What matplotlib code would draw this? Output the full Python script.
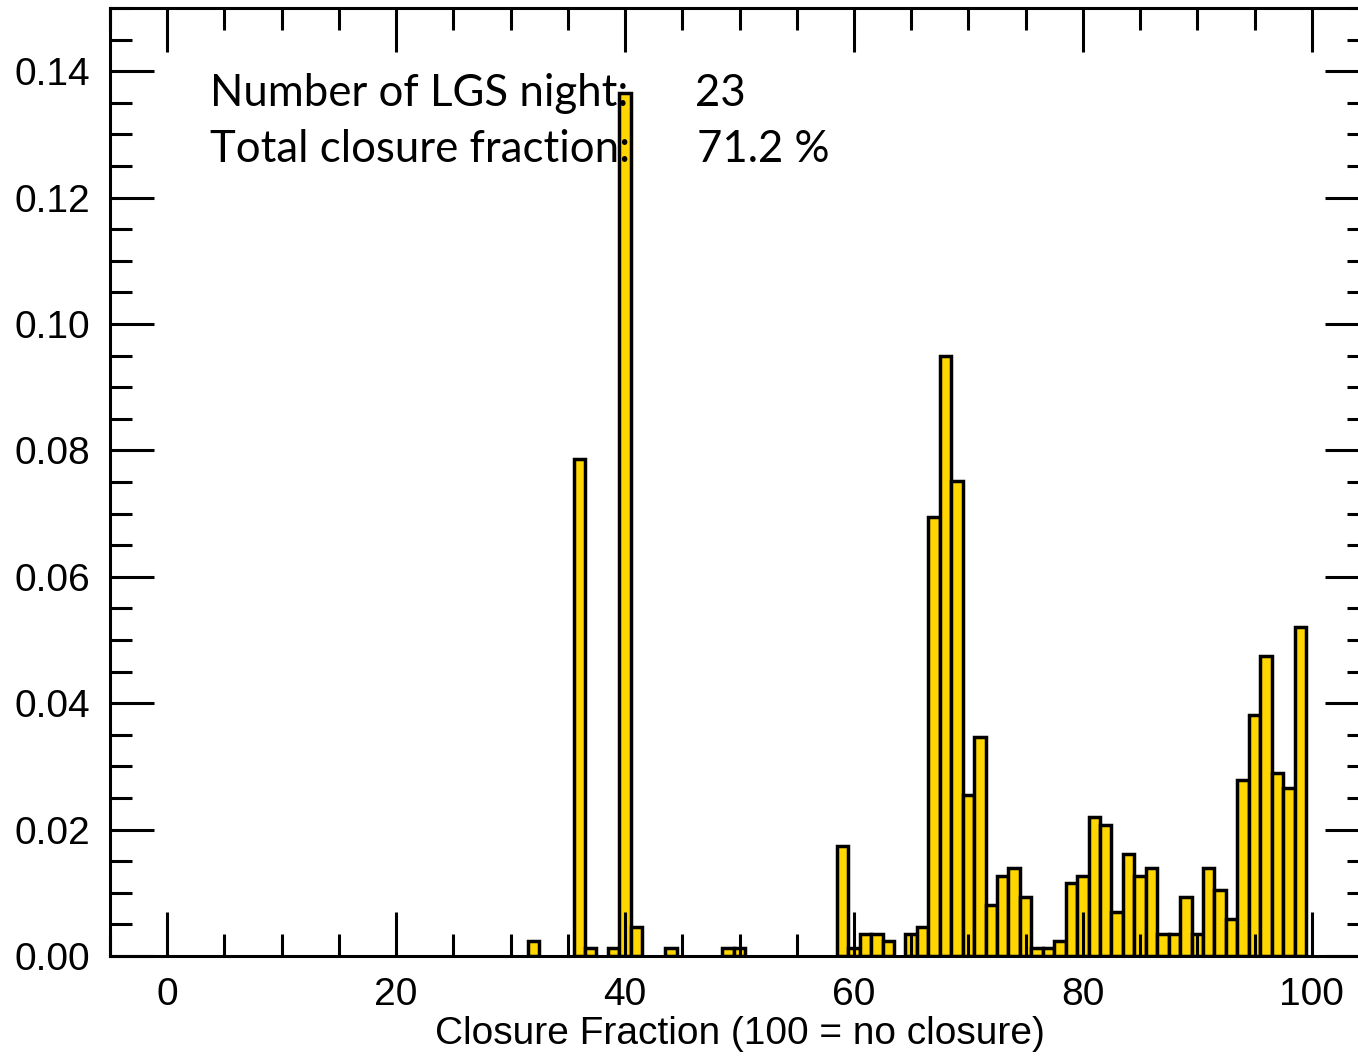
import matplotlib
matplotlib.use('Agg')
import matplotlib.pyplot as plt
from matplotlib.ticker import MultipleLocator, FormatStrFormatter

# closure fraction bins (percent) and the fraction of time in each bin
bins = [32, 36, 37, 39, 40, 41, 44, 49, 50,
        59, 60, 61, 62, 63, 65, 66, 67, 68, 69, 70,
        71, 72, 73, 74, 75, 76, 77, 78, 79, 80,
        81, 82, 83, 84, 85, 86, 87, 88, 89, 90,
        91, 92, 93, 94, 95, 96, 97, 98, 99]
fraction = [0.0023, 0.0787, 0.0012, 0.0012, 0.1366, 0.0046, 0.0012, 0.0012, 0.0012,
            0.0174, 0.0012, 0.0035, 0.0035, 0.0023, 0.0035, 0.0046, 0.0694, 0.0949, 0.0752, 0.0255,
            0.0347, 0.0081, 0.0127, 0.0139, 0.0093, 0.0012, 0.0012, 0.0023, 0.0116, 0.0127,
            0.0220, 0.0208, 0.0069, 0.0162, 0.0127, 0.0139, 0.0035, 0.0035, 0.0093, 0.0035,
            0.0139, 0.0104, 0.0058, 0.0278, 0.0382, 0.0475, 0.0289, 0.0266, 0.0521]

n_nights = 23
total_closure = 71.2

plt.rcParams['font.family'] = ['Liberation Sans', 'DejaVu Sans']

fig = plt.figure(figsize=(13.58, 10.58), dpi=100)
ax = fig.add_axes([110 / 1358, 102 / 1058, 1259 / 1358, 948 / 1058])

ax.bar(bins, fraction, width=1.0, color='#FFD600', edgecolor='black', linewidth=2.5)

ax.set_xlim(-5, 105)
ax.set_ylim(0, 0.15)
ax.xaxis.set_major_locator(MultipleLocator(20))
ax.xaxis.set_minor_locator(MultipleLocator(5))
ax.yaxis.set_major_locator(MultipleLocator(0.02))
ax.yaxis.set_minor_locator(MultipleLocator(0.005))
ax.yaxis.set_major_formatter(FormatStrFormatter('%.2f'))

ax.tick_params(which='both', direction='in', top=True, right=True, width=2.2, labelsize=28)
ax.tick_params(which='major', length=31.5)
ax.tick_params(which='minor', length=15.5)
ax.tick_params(axis='y', pad=14)
ax.tick_params(axis='x', pad=15)
for s in ax.spines.values():
    s.set_linewidth(2.2)

ax.set_xlabel('Closure Fraction (100 = no closure)', fontsize=28, labelpad=2)

txt = dict(fontsize=31.5, family=['Lato', 'DejaVu Sans'], va='baseline')
ax.text(3.76, 0.1345, 'Number of LGS night:', **txt)
ax.text(46.07, 0.1345, f'{n_nights}', **txt)
ax.text(3.76, 0.1256, 'Total closure fraction:', **txt)
ax.text(46.33, 0.1256, f'{total_closure} %', **txt)

fig.savefig('out.png', dpi=100)
